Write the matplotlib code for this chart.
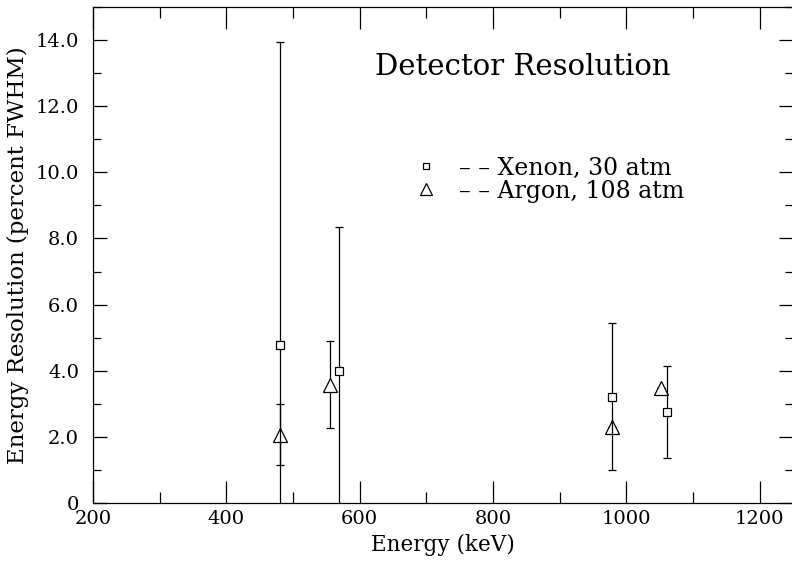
import matplotlib
matplotlib.use("Agg")
import matplotlib.pyplot as plt
from matplotlib.ticker import MultipleLocator, FuncFormatter
from matplotlib.lines import Line2D
import numpy as np

# Xenon, 30 atm
xe_energy = [481, 569, 978, 1061]
xe_res = [4.78, 4.0, 3.2, 2.75]
xe_lo = [-0.5, -0.5, 1.0, 1.35]   # lower ends (first two run off the axis)
xe_hi = [13.95, 8.35, 5.45, 4.15]

# Argon, 108 atm
ar_energy = [481, 556, 978, 1052]
ar_res = [2.07, 3.57, 2.3, 3.48]
ar_lo = [1.15, 2.27, 2.3, 3.48]
ar_hi = [3.0, 4.9, 2.3, 3.48]

plt.rcParams['font.family'] = ['DejaVu Serif']

fig = plt.figure(figsize=(7.92, 5.61), dpi=100)
ax = fig.add_axes([93 / 792, 58 / 561, 700 / 792, 496 / 561])

xe_err = [np.array(xe_res) - np.array(xe_lo), np.array(xe_hi) - np.array(xe_res)]
ar_err = [np.array(ar_res) - np.array(ar_lo), np.array(ar_hi) - np.array(ar_res)]

ax.errorbar(xe_energy, xe_res, yerr=xe_err, fmt='s', mfc='white', mec='black',
            ms=5.5, mew=0.9, ecolor='black', elinewidth=0.9, capsize=3, capthick=0.9,
            zorder=3)
ax.errorbar(ar_energy, ar_res, yerr=ar_err, fmt='^', mfc='white', mec='black',
            ms=10, mew=0.9, ecolor='black', elinewidth=0.9, capsize=3, capthick=0.9,
            zorder=2)

ax.set_xlim(200, 1250)
ax.set_ylim(0, 15)

ax.xaxis.set_major_locator(MultipleLocator(200))
ax.xaxis.set_minor_locator(MultipleLocator(100))
ax.yaxis.set_major_locator(MultipleLocator(2))
ax.yaxis.set_minor_locator(MultipleLocator(1))
ax.yaxis.set_major_formatter(FuncFormatter(lambda v, p: "0" if v == 0 else "%.1f" % v))

ax.tick_params(which='both', direction='in', top=True, right=True, width=0.9,
               labelsize=14, colors='black')
ax.tick_params(axis='x', which='major', length=16, pad=5)
ax.tick_params(axis='x', which='minor', length=8)
ax.tick_params(axis='y', which='major', length=10, pad=10)
ax.tick_params(axis='y', which='minor', length=6)
for s in ax.spines.values():
    s.set_linewidth(0.9)

ax.set_xlabel("Energy (keV)", fontsize=15.5, labelpad=4)
ax.set_ylabel("Energy Resolution (percent FWHM)", fontsize=16.5, labelpad=5)

ax.text(0.614, 0.879, "Detector Resolution", transform=ax.transAxes, fontsize=21,
        ha='center', va='center')

h1 = Line2D([], [], ls='none', marker='s', mfc='white', mec='black', ms=5, mew=0.9)
h2 = Line2D([], [], ls='none', marker='^', mfc='white', mec='black', ms=8, mew=0.9)
ax.legend([h1, h2], ["\u2013 \u2013 Xenon, 30 atm", "\u2013 \u2013 Argon, 108 atm"],
          loc='upper left', bbox_to_anchor=(0.445, 0.722), frameon=False, fontsize=17,
          handlelength=0.8, handletextpad=1.0, labelspacing=0.0, borderpad=0)

fig.savefig("out.png", dpi=100)
